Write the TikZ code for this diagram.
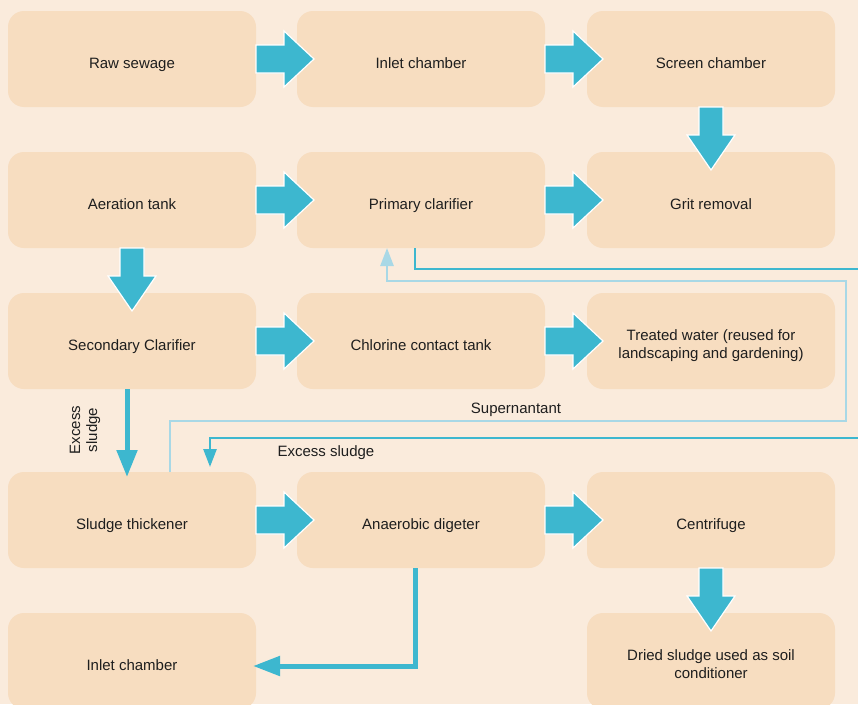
\documentclass[tikz,border=0pt]{standalone}
\usepackage{fontspec}
\setmainfont{Liberation Sans}
\usetikzlibrary{arrows.meta}
\definecolor{bg}{HTML}{FAEBDC}
\definecolor{boxc}{HTML}{F7DDC0}
\definecolor{arr}{HTML}{3DB7CF}
\definecolor{lite}{HTML}{A8D8E6}
\definecolor{txt}{HTML}{1E1E1E}
\begin{document}
\begin{tikzpicture}[x=1pt,y=-1pt,
  box/.style={fill=boxc, rounded corners=16pt, minimum width=248pt, minimum height=96pt,
    inner sep=0pt, outer sep=0pt},
  boxtext/.style={inner sep=0pt, align=center, font=\fontsize{15}{18}\selectfont, text=txt, yshift=-5.5pt,
    execute at begin node=\strut, execute at end node=\strut},
  lbl/.style={inner sep=0pt, align=center, font=\fontsize{15}{17}\selectfont, text=txt},
  fat/.style={fill=arr, draw=white, line width=1.2pt, line join=miter},
  fatR/.pic={\path[fat] (0,-14) -- (28,-14) -- (28,-28) -- (58,0) -- (28,28) -- (28,14) -- (0,14) -- cycle;},
  fatD/.pic={\path[fat] (-12,0) -- (-12,28) -- (-24,28) -- (0,63) -- (24,28) -- (12,28) -- (12,0) -- cycle;},
  thinline/.style={line width=2.6pt, draw=arr},
  liteline/.style={line width=2.6pt, draw=lite},
  thickline/.style={line width=5pt, draw=arr},
]
\useasboundingbox (0,0) rectangle (858,704);
\fill[bg] (0,0) rectangle (858,704);

% boxes
\node[box] (raw)   at (132,59)  {};
\node[box] (inlet) at (421,59)  {};
\node[box] (screen) at (711,59) {};
\node[box] (aer)   at (132,200) {};
\node[box] (prim)  at (421,200) {};
\node[box] (grit)  at (711,200) {};
\node[box] (sec)   at (132,341) {};
\node[box] (chl)   at (421,341) {};
\node[box] (treat) at (711,341) {};
\node[box] (thick) at (132,520) {};
\node[box] (anae)  at (421,520) {};
\node[box] (cent)  at (711,520) {};
\node[box] (inlet2) at (132,661) {};
\node[box] (dried) at (711,661) {};

% box texts
\node[boxtext] (rawt)    at (raw)    {Raw sewage};
\node[boxtext] (inlett)  at (inlet)  {Inlet chamber};
\node[boxtext] (screent) at (screen) {Screen chamber};
\node[boxtext] (aert)    at (aer)    {Aeration tank};
\node[boxtext] (primt)   at (prim)   {Primary clarifier};
\node[boxtext] (gritt)   at (grit)   {Grit removal};
\node[boxtext] (sect)    at (sec)    {Secondary Clarifier};
\node[boxtext] (chlt)    at (chl)    {Chlorine contact tank};
\node[boxtext] (treatt)  at (treat)  {Treated water (reused for\\landscaping and gardening)};
\node[boxtext] (thickt)  at (thick)  {Sludge thickener};
\node[boxtext] (anaet)   at (anae)   {Anaerobic digeter};
\node[boxtext] (centt)   at (cent)   {Centrifuge};
\node[boxtext] (inlet2t) at (inlet2) {Inlet chamber};
\node[boxtext] (driedt)  at (dried)  {Dried sludge used as soil\\conditioner};

% fat arrows
\pic at (raw.east) {fatR};
\pic at (inlet.east) {fatR};
\pic at (screen.south) {fatD};
\pic at (aer.east) {fatR};
\pic at (prim.east) {fatR};
\pic at (aer.south) {fatD};
\pic at (sec.east) {fatR};
\pic at (chl.east) {fatR};
\pic at (thick.east) {fatR};
\pic at (anae.east) {fatR};
\pic at (cent.south) {fatD};

% free ends / bends
\coordinate (r1) at (858,269);
\coordinate (r2) at (858,438);
\coordinate (s1) at (846,421);
\coordinate (s2) at (846,281);

% connectors
\draw[thinline] ([xshift=-6pt]prim.south) |- (r1);
\draw[liteline, -{Triangle[width=13pt,length=18pt]}] ([xshift=38pt]thick.north) |- (s1) -- (s2) -| ([xshift=-34pt]prim.south);
\draw[thinline, -{Triangle[width=13pt,length=18pt]}] (r2) -| ([xshift=78pt,yshift=5pt]thick.north);
\draw[thickline, -{Triangle[width=20pt,length=27pt]}] ([xshift=-5pt]sec.south) -- ([xshift=-5pt,yshift=-5pt]thick.north);
\draw[thickline, -{Triangle[width=19pt,length=27pt]}] ([xshift=-6pt]anae.south) |- ([xshift=-3pt,yshift=-5pt]inlet2.east);

% labels
\node[lbl] (supl) at (516,410) {Supernantant};
\node[lbl] (exl) at (326,453) {Excess sludge};
\node[lbl, rotate=90] (exl2) at (85,430) {Excess\\sludge};
\end{tikzpicture}
\end{document}
